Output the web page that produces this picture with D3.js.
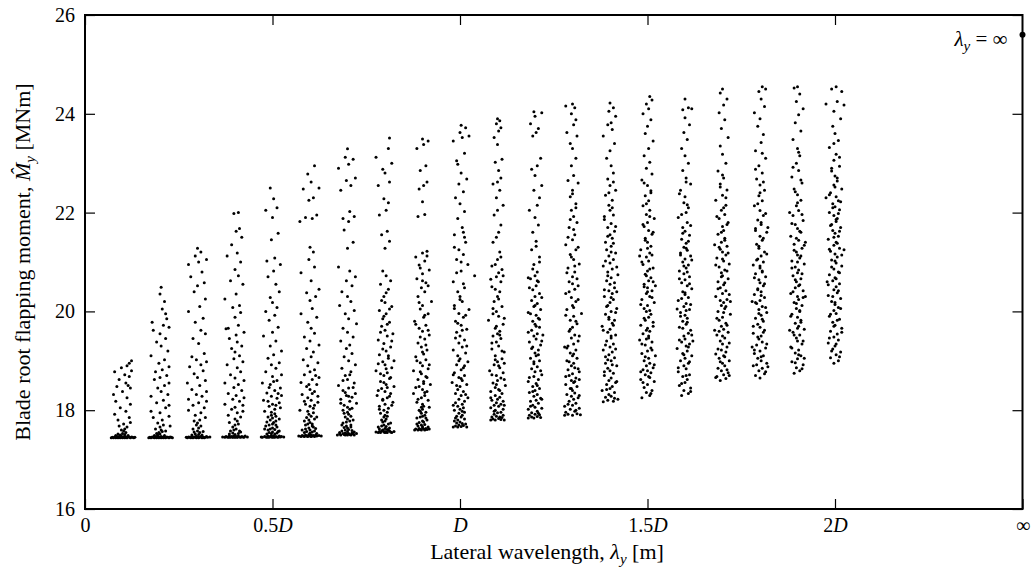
<!DOCTYPE html>
<html>
<head>
<meta charset="utf-8">
<script src="https://cdn.jsdelivr.net/npm/d3@7"></script>
<style>
  body { margin: 0; background: #fff; }
  svg { display: block; }
  text { font-family: "Liberation Serif", "DejaVu Serif", serif; fill: #000; }
</style>
</head>
<body>
<div id="chart"></div>
<script>
// nominal lateral wavelength of each sample column, in units of D
const wavelengths = [0.1, 0.2, 0.3, 0.4, 0.5, 0.6, 0.7, 0.8, 0.9, 1.0,
                     1.1, 1.2, 1.3, 1.4, 1.5, 1.6, 1.7, 1.8, 1.9, 2.0];

// flat pairs per column: (wavelength deviation in units of 0.003 D, peak flapping moment in MNm)
const col01 = [-10,17.44, -9,17.45, -8,17.44, -7,17.46, -6,17.44, -5,17.45, -4,17.47, -4,17.44, -3,17.45, -2,17.46, -2,17.44, -1,17.48, -1,17.45, 0,17.44, 1,17.46, 1,17.45, 2,17.47, 2,17.44, 3,17.46, 4,17.45, 4,17.44, 5,17.47, 6,17.45, 7,17.44, 8,17.46, 9,17.45, 10,17.44, 11,17.45, -6,17.49, -2,17.50, 2,17.51, 5,17.49, 0,17.53, 3,17.55, -4,17.52, 1,17.58, 2,17.62, -1,17.60, 4,17.66, -3,17.68,
  1,17.72, 7,17.75, -4,17.80, 6,17.85, -7,17.92, 3,17.98, -2,18.05, 7,18.12, -6,18.18, 4,18.25, -8,18.32, 0,18.38, 7,18.45, -5,18.48, 5,18.50, -3,18.62, 6,18.68, 2,18.72, -7,18.78, 8,18.80, 4,18.90, 6,18.95, 8,19.00, -1,18.86, 3,18.55];
const col02 = [-10,17.44, -9,17.45, -8,17.44, -7,17.46, -6,17.45, -5,17.44, -5,17.46, -4,17.45, -3,17.44, -3,17.47, -2,17.45, -1,17.44, -1,17.46, 0,17.45, 1,17.44, 1,17.47, 2,17.45, 3,17.44, 3,17.46, 4,17.45, 5,17.44, 6,17.46, 7,17.45, 8,17.44, 9,17.46, 10,17.45, 11,17.44, -5,17.49, -2,17.50, 0,17.52, 4,17.49, -1,17.55, 2,17.57, -3,17.53, 1,17.60, 5,17.58, -4,17.62, 0,17.66, 3,17.70, -2,17.74,
  9,17.68, 2,17.80, -6,17.85, 8,17.88, 0,17.95, -8,17.98, 5,18.05, 8,18.10, -3,18.15, 3,18.20, -8,18.28, 7,18.32, 1,18.38, -2,18.45, 4,18.50, 8,18.55, -5,18.62, 0,18.66, 6,18.70, -4,18.78, 2,18.82, 8,18.88, -1,18.95, 4,19.02, -8,19.10, 7,19.20, 1,19.30, -3,19.38, 5,19.45, 0,19.55, -6,19.62, 8,19.68, 3,19.72, -7,19.78, 5,19.95, 2,20.05, 4,20.20, 0,20.35, 1,20.49, 6,19.85];
const col03 = [-10,17.45, -9,17.44, -8,17.46, -7,17.45, -6,17.44, -5,17.47, -4,17.45, -4,17.44, -3,17.46, -2,17.45, -1,17.44, -1,17.48, 0,17.45, 1,17.44, 1,17.46, 2,17.45, 3,17.47, 4,17.44, 4,17.45, 5,17.46, 6,17.44, 7,17.45, 8,17.47, 9,17.45, 11,17.46, -5,17.50, -2,17.52, 1,17.51, 4,17.50, -3,17.56, 2,17.55, 0,17.58, 5,17.57, -4,17.62, 1,17.64, 3,17.68, -1,17.70, 0,17.74, -3,17.78, 2,17.80,
  7,17.85, -2,17.90, 3,17.95, -8,18.00, 6,18.05, -4,18.10, 1,18.15, 8,18.18, -8,18.22, 4,18.28, -1,18.32, 8,18.38, -5,18.42, 2,18.50, -9,18.55, 7,18.60, 0,18.66, -3,18.74, 5,18.80, -7,18.88, 3,18.92, 8,18.98, -1,19.02, -5,19.08, 6,19.15, 1,19.35, -4,19.45, 7,19.55, 3,19.62, -2,19.78, 5,19.86, -8,20.00, 2,20.10, 7,20.25, -3,20.40, 0,20.52, 6,20.58, -6,20.70, 4,20.80, -8,20.95, 1,21.00, 8,21.05, -2,21.12, 3,21.20, 0,21.28];
const col04 = [-11,17.46, -9,17.45, -8,17.47, -7,17.46, -6,17.45, -5,17.48, -5,17.46, -4,17.45, -3,17.47, -2,17.46, -2,17.45, -1,17.48, 0,17.46, 0,17.45, 1,17.47, 2,17.46, 2,17.45, 3,17.48, 4,17.46, 5,17.45, 6,17.47, 7,17.46, 8,17.45, 9,17.48, 11,17.46, -5,17.52, -2,17.54, 0,17.51, 3,17.53, 5,17.56, -4,17.58, -1,17.60, 1,17.62, 4,17.58, -2,17.66, 0,17.70, 3,17.72, -5,17.75, 2,17.78, 0,17.82,
  5,17.86, -6,17.90, 2,17.95, 7,17.98, -3,18.02, 0,18.06, 7,18.10, -9,18.12, 4,18.18, -2,18.22, 8,18.25, 1,18.30, -6,18.34, 6,18.40, -1,18.46, 3,18.52, -9,18.55, 8,18.60, 0,18.65, -4,18.72, 5,18.78, 2,18.86, -7,18.92, 7,18.98, -1,19.04, 4,19.10, 0,19.18, -3,19.25, 6,19.30, 2,19.38, -5,19.45, 1,19.52, 8,19.58, -8,19.65, -6,19.66, 3,19.72, 0,19.88, 5,19.98, -2,20.08, 4,20.12, -9,20.25, 1,20.35, 7,20.55, -4,20.62, 3,20.72, 0,20.85, 5,21.00, -7,21.12, 2,21.18, -3,21.35, 6,21.50, 1,21.62, 4,21.68, -1,21.98, 3,22.00];
const col05 = [-10,17.46, -9,17.45, -7,17.47, -6,17.46, -5,17.45, -4,17.48, -4,17.46, -3,17.45, -2,17.47, -1,17.49, -1,17.46, 0,17.45, 1,17.48, 1,17.46, 2,17.45, 3,17.47, 4,17.46, 5,17.45, 6,17.48, 7,17.46, 8,17.47, 10,17.46, -5,17.52, -3,17.55, -1,17.53, 0,17.56, 2,17.52, 4,17.54, 5,17.57, -4,17.60, -2,17.62, 0,17.64, 2,17.61, 4,17.66, -6,17.68, -3,17.70, 0,17.72, 1,17.75, 3,17.78, -2,17.80, 0,17.84, -4,17.86, 3,17.88, -1,17.90, 2,17.93,
  -7,17.98, 2,18.02, 7,18.05, -3,18.08, 0,18.12, 6,18.15, -8,18.20, 4,18.24, -1,18.28, 8,18.30, -5,18.35, 2,18.40, 7,18.45, -2,18.52, -9,18.55, 4,18.60, 0,18.68, 8,18.72, -6,18.78, 3,18.85, -1,18.92, 6,18.96, -4,19.05, 1,19.12, 8,19.20, -2,19.30, 3,19.40, -8,19.50, 0,19.58, 5,19.68, -3,19.82, 2,19.92, -6,20.00, 4,20.08, 0,20.18, -2,20.28, 6,20.40, 3,20.55, -4,20.70, 1,20.82, 7,20.95, -5,21.02, 2,21.08, -1,21.45, 5,21.58, 0,21.90, -6,22.05, 4,22.10, 1,22.28, -2,22.50,
  6,17.58, -7,17.62, 3,17.70, -5,17.76, 6,17.82, -1,17.96, 3,18.10, -4,18.18, 5,18.34, -3,18.46, 1,18.58];
const col06 = [-10,17.48, -8,17.47, -7,17.49, -6,17.48, -5,17.47, -4,17.50, -3,17.48, -2,17.47, -1,17.49, -1,17.51, 0,17.48, 1,17.47, 1,17.50, 2,17.48, 3,17.49, 4,17.47, 5,17.50, 6,17.48, 8,17.49, 10,17.48, -5,17.55, -3,17.57, 0,17.54, 2,17.56, 4,17.58, -4,17.62, -1,17.64, 0,17.60, 3,17.66, 5,17.63, -4,17.70, -2,17.72, 0,17.75, 2,17.72, -1,17.80, 4,17.82, -3,17.85, 1,17.88, -1,17.92, 3,17.95,
  -9,18.00, 3,18.04, 0,18.08, -4,18.12, 7,18.16, 1,18.20, -2,18.25, 7,18.28, -7,18.32, 4,18.38, 0,18.42, -3,18.48, 6,18.52, -8,18.56, 2,18.62, 8,18.66, -5,18.72, 0,18.78, 4,18.82, -2,18.90, 7,18.96, -6,19.02, 1,19.08, 3,19.18, -3,19.25, 8,19.32, 0,19.40, -5,19.48, 4,19.56, 1,19.66, -2,19.78, 6,19.88, -8,19.95, 2,20.06, 0,20.22, 5,20.30, -3,20.38, 8,20.45, 1,20.62, -8,20.78, 4,20.90, -1,21.05, 3,21.20, 0,21.30, -9,21.82, 2,21.88, -4,21.90, 6,21.95, -1,22.25, 3,22.30, -6,22.48, 8,22.50, 1,22.62, -2,22.78, 4,22.95,
  6,17.53, -7,17.60, 2,17.68, -5,17.78, 6,17.86, -2,17.98, 4,18.10, -5,18.18, 2,18.34, -1,18.52, 5,18.70];
const col07 = [-9,17.50, -7,17.52, -6,17.50, -4,17.53, -3,17.51, -2,17.50, -2,17.54, -1,17.52, 0,17.50, 1,17.53, 2,17.51, 3,17.50, 4,17.54, 5,17.52, 6,17.50, 8,17.53, -5,17.58, -2,17.60, 0,17.57, 1,17.61, 4,17.59, -3,17.65, -1,17.68, 0,17.64, 3,17.70, -4,17.74, -1,17.76, 2,17.78, 0,17.82, -2,17.86, 3,17.88, 1,17.92, 0,17.96, -4,18.00, 2,18.02,
  0,18.06, -3,18.10, 8,18.14, 2,18.18, -6,18.22, 4,18.26, -1,18.30, 7,18.34, -4,18.40, 1,18.45, -8,18.50, 6,18.55, 0,18.62, -2,18.70, 3,18.78, -5,18.85, 7,18.92, 1,19.00, -3,19.08, 4,19.15, -1,19.25, 2,19.32, -6,19.40, 5,19.48, 0,19.58, -4,19.66, 8,19.75, 1,19.85, -2,19.95, 6,20.02, -7,20.12, 3,20.20, 0,20.30, -5,20.40, 4,20.52, -1,20.62, 7,20.70, 2,20.82, -8,20.90, 0,21.28, 5,21.40, -3,21.65, 1,21.82, -4,21.88, 6,21.92, 2,22.02, -6,22.45, 3,22.55, -1,22.65, 7,22.70, -8,22.90, 1,22.98, 5,23.08, -2,23.12, 0,23.29,
  6,17.56, -7,17.55, 3,17.66, -5,17.70, 5,17.80, -3,17.94, 4,18.04, -6,18.14, 1,18.28, -2,18.36, 5,18.46, -4,18.60, 2,18.72];
const col08 = [-8,17.56, -6,17.55, -5,17.57, -4,17.55, -3,17.58, -1,17.56, 0,17.55, 0,17.57, 1,17.56, 2,17.55, 4,17.58, 5,17.56, 6,17.55, 8,17.57, -5,17.62, -2,17.60, 0,17.63, 2,17.61, 4,17.64, -3,17.68, -1,17.70, 1,17.67, 3,17.72, -2,17.76, 0,17.78, 1,17.82, -1,17.86, 0,17.90, -4,17.94, 2,17.96,
  -1,18.00, 3,18.04, -5,18.08, 0,18.12, 7,18.16, -2,18.20, 2,18.25, -7,18.30, 5,18.34, 0,18.38, -3,18.44, 8,18.48, 1,18.52, -4,18.58, 4,18.64, -1,18.70, 2,18.76, -8,18.80, 6,18.86, 0,18.92, -2,18.98, 8,19.00, 3,19.05, -5,19.12, 1,19.20, 5,19.28, -1,19.35, -6,19.42, 2,19.50, 7,19.55, 0,19.62, -3,19.70, 4,19.78, -2,19.85, 1,19.95, -5,20.02, 6,20.10, 0,20.18, -1,20.30, 3,20.45, -4,20.55, 5,20.62, 1,20.72, -2,20.82, 0,21.28, 4,21.42, -3,21.55, 2,21.62, -5,21.95, 1,22.05, 3,22.20, -1,22.28, -6,22.55, 4,22.62, 0,22.80, -2,22.88, 6,23.00, -8,23.12, 3,23.30, 4,23.51,
  3,17.60, -6,17.66, 5,17.74, -3,17.80, 2,17.88, -5,18.02, 6,18.10, -2,18.22, 4,18.28, -6,18.40, 2,18.46, -1,18.56, 5,18.66, -4,18.74, 1,18.84, -6,18.94, 3,19.10, -2,19.24, 6,19.40, -4,19.58, 2,19.74, -1,19.90, 4,20.05, -3,20.22, 1,20.38];
const col09 = [-7,17.60, -6,17.62, -4,17.60, -3,17.63, -2,17.61, -1,17.60, 0,17.64, 1,17.62, 2,17.60, 3,17.63, 4,17.61, 6,17.62, -4,17.68, -1,17.70, 0,17.67, 2,17.71, -3,17.75, 0,17.78, 1,17.76, 4,17.80, -5,17.84, -2,17.86, 0,17.88, 2,17.90, -1,17.94, 3,17.96, -3,18.00, 0,18.02, -1,18.06, 1,18.08,
  0,18.12, -5,18.16, 5,18.20, -1,18.25, 2,18.30, -8,18.34, 4,18.38, 0,18.42, -3,18.48, 7,18.52, 1,18.58, -4,18.62, 3,18.68, -1,18.74, -8,18.80, 5,18.84, 0,18.90, -2,18.96, 3,19.02, -6,19.08, 1,19.14, 4,19.22, -1,19.28, -4,19.36, 2,19.44, 6,19.52, 0,19.60, -3,19.66, 3,19.72, -7,19.80, 1,19.88, 5,19.95, -2,20.05, 0,20.12, 8,20.20, -4,20.30, 2,20.40, -1,20.48, 3,20.58, -5,20.66, 0,20.76, 6,20.84, -3,20.94, 2,21.02, -6,21.10, 0,21.18, 4,21.22, -4,21.92, 2,21.96, 0,22.22, -3,22.48, 1,22.55, 4,22.62, -2,22.85, 3,22.95, -5,23.30, 1,23.38, 5,23.45, 0,23.49,
  5,17.66, -5,17.72, 3,17.84, -2,17.98, 6,18.06, -4,18.22, 2,18.36, -6,18.46, 1,18.54, 4,18.66, -2,18.78, 6,18.92, -5,19.00, 0,19.18, 3,19.32, -2,19.48, 5,19.62, -6,19.74, 2,19.92, -3,20.18, 5,20.52, 0,20.62, -2,20.88, 4,21.12];
const col10 = [-6,17.66, -4,17.68, -2,17.66, -1,17.70, 1,17.67, 3,17.69, 6,17.66, -3,17.74, 0,17.76, 2,17.73, -5,17.78, -2,17.80, 4,17.82, 1,17.86, -3,17.88, 2,17.90, -1,17.94, 4,17.96, -5,18.00, 0,18.02, 3,18.05, -2,18.08, 2,18.12, -4,18.15, 4,18.18,
  -1,18.22, 7,18.25, 1,18.30, -4,18.34, 3,18.38, -2,18.42, 0,18.48, 6,18.52, -7,18.56, 2,18.60, -1,18.66, 4,18.70, -5,18.76, 1,18.82, 3,18.86, -3,18.92, 7,18.98, 0,19.04, -2,19.10, 5,19.16, -6,19.22, 2,19.28, -1,19.36, 4,19.42, 0,19.50, -3,19.58, 6,19.64, 1,19.72, -4,19.80, 3,19.88, -1,19.96, 8,20.04, -5,20.12, 2,20.20, 0,20.30, -2,20.40, 4,20.48, 13,20.72, -6,20.60, 1,20.82, 7,20.95, -3,21.05, 3,21.15, -1,21.25, 5,21.40, -5,21.55, 2,21.70, -2,21.88, 4,22.02, 0,22.18, -4,22.30, 3,22.42, -1,22.58, 6,22.68, 1,22.80, -3,23.05, 4,23.20, -6,23.45, 2,23.52, 8,23.55, 0,23.62, 5,23.72, 1,23.77, -2,22.98, 3,21.60,
  5,17.72, -4,17.84, 2,17.98, -6,18.10, 5,18.32, -3,18.50, 1,18.64, -6,18.72, 4,18.90, -1,19.00, 6,19.30, -4,19.46, 2,19.62, -2,19.76, 5,19.92, -5,20.06, 0,20.24, 3,20.56, -3,20.78, 1,21.00, -5,21.30, 4,21.50];
const col11 = [-6,17.80, -4,17.82, -2,17.80, 1,17.83, 3,17.81, 6,17.80, -5,17.86, -1,17.88, 2,17.86, 5,17.90, -3,17.92, 0,17.95, 3,17.96, -2,18.00, 5,18.02, -6,18.05, 1,18.08, -3,18.10, 3,18.12, -1,18.15, 5,18.18, -5,18.20, 0,18.22, 2,18.26, -2,18.30,
  4,18.34, -6,18.38, 1,18.42, -2,18.46, 7,18.50, -4,18.55, 0,18.60, 3,18.65, -1,18.70, 5,18.76, -7,18.80, 2,18.86, -3,18.92, 0,18.98, 4,19.04, -2,19.10, 6,19.18, -5,19.24, 1,19.30, -1,19.38, 3,19.45, -4,19.50, 0,19.55, 2,19.60, -2,19.66, 5,19.74, -8,19.82, 1,19.90, -1,20.00, 4,20.10, -3,20.20, 0,20.30, 2,20.40, -5,20.50, 3,20.60, -1,20.70, 1,20.78, 4,20.85, -2,20.95, 0,21.05, 2,21.20, -4,21.40, 1,21.60, 3,21.75, -3,21.95, 0,22.05, 5,22.15, -1,22.30, 2,22.45, -4,22.58, 0,22.62, 3,22.70, 1,22.85, -2,23.02, 4,23.08, 0,23.38, -3,23.52, 1,23.65, 3,23.72, -1,23.80, 2,23.86, 0,23.90, -4,19.95, 6,18.95, -6,20.65,
  4,17.85, -3,17.98, 6,18.10, -6,18.25, 2,18.40, -1,18.52, 6,18.62, -5,18.72, 1,18.90, -2,19.02, 4,19.20, -5,19.36, 2,19.52, -1,19.70, 6,19.86, -4,20.06, 1,20.25, -2,20.45, 5,20.72, -5,20.92, 3,21.10, -1,21.50];
const col12 = [-6,17.84, -3,17.86, -1,17.84, 2,17.87, 5,17.85, -5,17.90, 0,17.92, 4,17.91, -3,17.95, 2,17.98, -6,18.02, 6,18.04, 0,18.06, -2,18.10, 3,18.14, -4,18.18, 1,18.20, 5,18.24, -1,18.28, 2,18.32,
  -5,18.36, 0,18.40, 4,18.44, -2,18.48, 1,18.54, -6,18.58, 3,18.62, -1,18.68, 6,18.72, 0,18.78, -3,18.84, 2,18.88, -1,18.94, 4,19.00, -4,19.05, 1,19.10, 0,19.16, 3,19.22, -2,19.28, 5,19.32, -5,19.38, 1,19.44, -1,19.50, 2,19.55, -3,19.62, 4,19.68, 0,19.74, -2,19.80, 3,19.86, 1,19.92, -6,19.98, 5,20.04, -1,20.10, 2,20.16, -3,20.22, 0,20.30, 4,20.36, -2,20.44, 1,20.52, 3,20.60, -4,20.66, 0,20.72, 2,20.80, -1,20.95, 4,21.10, -3,21.25, 1,21.42, -2,21.60, 3,21.75, 0,21.90, -5,22.05, 2,22.15, 4,22.30, -1,22.45, 6,22.55, 0,22.75, -3,22.88, 2,22.95, 5,23.10, -2,23.55, 1,23.62, 3,23.70, -4,23.80, 0,23.95, 6,24.02, -1,24.04, -6,20.68, 7,19.52,
  3,17.94, -4,18.08, 6,18.22, -2,18.38, 2,18.50, -5,18.66, 5,18.80, -1,18.98, 3,19.12, -3,19.25, 6,19.40, -6,19.58, 1,19.70, 4,19.84, -4,19.95, 0,20.12, 6,20.28, -5,20.48, 2,20.62, -2,20.86, 4,21.00, 1,21.32];
const col13 = [-7,17.90, -4,17.92, 0,17.90, 4,17.93, 7,17.91, -6,17.96, 2,17.98, -2,18.02, 6,18.04, -7,18.08, 0,18.10, 3,18.14, -3,18.18, 1,18.22, 5,18.25, -1,18.28, -5,18.32, 2,18.35, 0,18.40, -2,18.44,
  4,18.48, -6,18.52, 1,18.56, -1,18.60, 3,18.65, -3,18.70, 0,18.74, 6,18.78, -4,18.82, 2,18.86, -1,18.90, 1,18.95, -5,19.00, 4,19.05, 0,19.10, -2,19.16, 3,19.22, -7,19.28, 1,19.34, 5,19.40, -1,19.46, 2,19.52, -3,19.60, 0,19.68, 4,19.75, -2,19.82, 1,19.90, 8,19.96, -5,20.04, 0,20.12, 3,20.20, -1,20.28, -6,20.36, 2,20.45, 5,20.52, -3,20.60, 0,20.70, 2,20.80, -4,20.88, 6,20.96, 1,21.05, -2,21.15, 3,21.25, -6,21.35, 0,21.45, 2,21.55, -3,21.70, 4,21.80, 1,21.92, -1,22.05, 3,22.18, -2,22.32, 0,22.45, 5,22.60, -4,22.65, 1,22.75, -1,22.95, 3,23.10, 0,23.30, -2,23.40, 4,23.55, -5,23.62, 1,23.78, 3,23.88, -1,24.00, 2,24.12, -6,24.16, 0,24.20, -4,19.30, 6,18.62,
  3,18.00, -4,18.12, 6,18.30, -1,18.44, 2,18.58, -6,18.68, 5,18.84, -3,18.98, 1,19.14, -5,19.26, 6,19.50, -2,19.64, 3,19.80, -6,19.92, 1,20.08, 5,20.24, -3,20.40, 0,20.56, 4,20.66, -5,20.78, 2,20.92, -1,21.10, 5,21.30, -4,21.50, 1,21.66, -2,21.86, 3,22.10, 0,22.38];
const col14 = [-6,18.17, -2,18.20, 3,18.18, 7,18.22, -4,18.26, 1,18.28, -1,18.32, 4,18.36, -7,18.40, 0,18.44, 2,18.48, -3,18.52, 5,18.56, -1,18.60, 1,18.65,
  -5,18.70, 3,18.75, 0,18.80, -2,18.85, 6,18.90, -4,18.95, 1,19.00, 4,19.06, -1,19.12, 2,19.18, -6,19.22, 0,19.28, 3,19.34, -3,19.40, 1,19.46, 5,19.52, -2,19.58, 0,19.64, -7,19.70, 2,19.76, 4,19.82, -1,19.88, -4,19.94, 1,20.00, 6,20.06, -2,20.12, 0,20.18, 3,20.24, -5,20.30, 2,20.36, -1,20.42, 4,20.48, 0,20.55, -3,20.62, 1,20.68, 7,20.74, -2,20.80, 2,20.86, -6,20.92, 0,20.98, 3,21.05, -1,21.12, 5,21.18, -3,21.25, 1,21.32, -4,21.40, 2,21.48, 0,21.55, 4,21.62, -2,21.70, 1,21.78, -5,21.86, 3,21.95, 0,22.05, -1,22.15, 2,22.25, -4,22.35, 5,22.45, 0,22.55, -2,22.68, 3,22.80, 1,22.95, -3,23.10, 0,23.25, 4,23.40, -6,23.55, 2,23.68, -2,23.78, 1,23.82, 5,23.95, -1,24.05, 3,24.12, 0,24.22, -4,19.08, 6,20.40,
  4,18.24, -3,18.42, 6,18.58, -5,18.78, 2,18.92, -2,19.02, 5,19.24, -4,19.32, 1,19.50, -6,19.62, 3,19.72, -1,19.84, 5,19.98, -3,20.10, 1,20.28, -5,20.44, 4,20.58, -2,20.72, 6,20.90, -4,21.02, 1,21.20, 3,21.38, -2,21.52, 5,21.72, -5,21.92, 2,22.10, -1,22.40, 3,22.62];
const col15 = [-5,18.25, 2,18.30, -1,18.36, 4,18.40, -3,18.46, 0,18.52, 6,18.58, -6,18.62, 1,18.68, -2,18.72, 3,18.76, 0,18.80, -4,18.82, 5,18.86, -1,18.90, 2,18.95, -3,19.00, 1,19.05, 7,19.10, -5,19.15, 0,19.20, 3,19.26, -2,19.32, 4,19.38, -1,19.44, 1,19.50, -4,19.55, 2,19.60, 0,19.66, -6,19.72, 5,19.78, -2,19.82, 1,19.88, 3,19.94, -1,20.00, -3,20.06, 0,20.12, 6,20.18, -5,20.24, 2,20.30, -1,20.36, 4,20.42, 0,20.48, -3,20.55, 1,20.62, 3,20.68, -2,20.75, 0,20.82, 5,20.88, -4,20.95, 1,21.02, -1,21.10, 2,21.18, -6,21.25, 3,21.32, 0,21.40, -2,21.48, 4,21.56, 1,21.64, -3,21.72, 0,21.80, 6,21.88, -1,21.96, 2,22.05, -4,22.14, 1,22.24, -2,22.34, 3,22.44, 0,22.55, -5,22.66, 4,22.78, -1,22.90, 2,23.02, -3,23.15, 1,23.30, 5,23.45, -2,23.60, 0,23.75, 3,23.88, -4,24.00, 1,24.10, -1,24.20, 4,24.28, 2,24.35, -7,19.42, 7,20.52, -7,21.12,
  3,18.34, -4,18.56, 2,18.66, -6,18.78, 6,18.92, -2,19.08, 4,19.22, -5,19.34, 1,19.46, -1,19.62, 5,19.70, -3,19.86, 2,20.02, -6,20.14, 4,20.28, 0,20.40, -3,20.50, 5,20.60, -1,20.72, 2,20.86, -5,21.00, 4,21.14, 0,21.28, -2,21.44, 5,21.60, -4,21.76, 2,21.92, -1,22.18, 3,22.40, -3,22.60];
const col16 = [-3,18.30, 3,18.34, -1,18.40, 5,18.45, -5,18.50, 0,18.56, 2,18.62, -2,18.68, 4,18.72, -6,18.78, 1,18.84, -1,18.90, 3,18.95, -4,19.00, 0,19.05, 6,19.10, -2,19.15, 2,19.20, -7,19.25, 1,19.30, 4,19.34, -3,19.38, 0,19.44, -1,19.50, 3,19.56, 5,19.62, -5,19.68, 1,19.74, -2,19.80, 2,19.86, 0,19.92, -4,19.98, 4,20.04, -1,20.10, 1,20.16, -6,20.22, 3,20.28, 0,20.34, -2,20.40, 6,20.46, 2,20.52, -3,20.58, 0,20.64, 4,20.70, -1,20.76, -5,20.82, 1,20.88, 3,20.94, -2,21.00, 0,21.06, 5,21.12, -4,21.18, 2,21.24, -1,21.30, 1,21.38, -3,21.46, 4,21.54, 0,21.62, -2,21.70, 2,21.80, -6,21.90, 1,22.00, 3,22.10, -1,22.20, 0,22.32, -4,22.45, 5,22.58, 1,22.70, -2,22.85, 3,23.00, 0,23.15, -3,23.30, 2,23.48, -1,23.62, 4,23.78, 0,23.92, -2,24.08, 3,24.12, 6,24.10, 0,24.30, -7,20.05, 7,19.40,
  5,18.38, -3,18.54, 1,18.70, -6,18.86, 4,18.98, -1,19.12, 3,19.28, -5,19.42, 6,19.52, -2,19.66, 2,19.78, -4,19.90, 1,20.02, 5,20.14, -3,20.26, 0,20.38, 4,20.56, -5,20.66, 2,20.80, -1,20.92, 6,21.04, -4,21.14, 1,21.28, 3,21.42, -2,21.58, 5,21.74, -3,21.96, 2,22.16, -5,22.38, 1,22.62];
const col17 = [-2,18.60, 3,18.64, -5,18.68, 1,18.72, 5,18.76, -1,18.80, -4,18.85, 2,18.90, 0,18.95, 6,19.00, -3,19.05, 1,19.10, -6,19.14, 3,19.18, -1,19.22, 4,19.28, 0,19.34, -2,19.40, 2,19.46, -5,19.52, 5,19.58, 1,19.64, -1,19.70, 3,19.76, -3,19.82, 0,19.88, 7,19.94, -4,20.00, 2,20.06, -1,20.12, 1,20.18, 4,20.24, -6,20.30, 0,20.36, 3,20.42, -2,20.48, 1,20.54, -4,20.60, 5,20.66, 0,20.72, -1,20.78, 2,20.84, -3,20.90, 6,20.96, 1,21.02, -5,21.08, 3,21.14, 0,21.20, -2,21.26, 4,21.32, -1,21.40, 2,21.48, -4,21.56, 1,21.64, 0,21.72, 5,21.80, -3,21.88, 2,21.96, -1,22.05, 3,22.15, -6,22.25, 0,22.35, 4,22.46, -2,22.58, 1,22.70, -4,22.84, 3,23.00, 0,23.18, -2,23.35, 5,23.52, -1,23.70, 2,23.88, -3,24.02, 1,24.18, 4,24.30, -2,24.42, 0,24.50, -7,19.62, 7,20.20, -7,21.35, 6,18.70,
  -6,18.66, 4,18.82, -2,18.98, 2,19.08, -4,19.24, 6,19.36, 0,19.50, -3,19.60, 4,19.72, -5,19.86, 1,19.98, 3,20.10, -2,20.22, 6,20.34, -4,20.46, 2,20.58, -1,20.70, 4,20.82, -6,20.94, 0,21.06, 5,21.18, -3,21.30, 2,21.44, -1,21.60, 4,21.76, -5,21.92, 1,22.10, 3,22.30, -2,22.52, 0,22.76];
const col18 = [0,18.65, -4,18.70, 4,18.74, -1,18.80, 2,18.85, -6,18.90, 6,18.95, 1,19.00, -2,19.05, 3,19.10, -5,19.15, 0,19.20, 5,19.26, -3,19.32, 2,19.38, -1,19.44, 1,19.50, -6,19.56, 4,19.62, 0,19.68, -2,19.74, 3,19.80, -4,19.86, 1,19.92, 6,19.98, -1,20.04, 2,20.10, -3,20.16, 0,20.22, 4,20.28, -5,20.34, 1,20.40, -2,20.46, 3,20.52, 0,20.58, -1,20.64, 5,20.70, -4,20.76, 2,20.82, 0,20.88, -6,20.94, 3,21.00, -2,21.06, 1,21.12, 4,21.20, -1,21.28, -3,21.36, 2,21.44, 0,21.52, 6,21.60, -4,21.68, 1,21.76, -2,21.85, 3,21.94, 0,22.04, -5,22.14, 2,22.24, -1,22.34, 4,22.45, 0,22.56, -3,22.68, 2,22.80, -1,22.95, 5,23.10, -4,23.25, 1,23.42, 3,23.58, -2,23.75, 0,23.90, -5,24.02, 4,24.15, 1,24.30, -1,24.45, 5,24.50, 2,24.55, -7,20.20, 7,21.70, -7,19.28, 7,18.88,
  5,18.78, -3,18.92, 1,19.08, -5,19.22, 6,19.34, -2,19.48, 3,19.58, -6,19.70, 2,19.84, -1,19.96, 5,20.08, -4,20.18, 1,20.32, -2,20.44, 4,20.56, -5,20.68, 2,20.80, 0,20.92, -3,21.04, 6,21.16, -1,21.32, 3,21.48, -4,21.64, 1,21.80, 5,21.98, -2,22.18, 0,22.40, 3,22.62, -4,22.88, 2,23.20];
const col19 = [-3,18.75, 2,18.80, -1,18.86, 5,18.92, -5,18.98, 0,19.04, 3,19.10, -2,19.16, 1,19.22, -6,19.28, 4,19.34, 0,19.40, -1,19.46, 2,19.52, -4,19.58, 6,19.64, 1,19.70, -2,19.76, 3,19.82, 0,19.88, -5,19.94, 2,20.00, -1,20.06, 4,20.12, -3,20.18, 1,20.24, 0,20.30, -6,20.36, 5,20.42, -2,20.48, 2,20.54, -1,20.60, 3,20.66, -4,20.72, 0,20.78, 1,20.84, -2,20.90, 6,20.96, -5,21.02, 2,21.08, 0,21.14, -1,21.20, 4,21.28, -3,21.36, 1,21.44, -6,21.52, 3,21.60, 0,21.68, -2,21.76, 5,21.84, -4,21.94, 1,22.04, -1,22.14, 3,22.25, 0,22.36, -3,22.48, 4,22.60, -5,22.72, 1,22.85, -1,23.00, 2,23.15, 0,23.30, -4,23.48, 3,23.65, -2,23.82, 1,23.98, 5,24.10, -1,24.25, 2,24.40, -3,24.52, 0,24.55, -7,19.62, 7,20.30, 7,21.40, -7,22.00, 6,19.05,
  4,18.84, -2,18.96, 1,19.12, -5,19.26, 5,19.40, -3,19.52, 0,19.66, 3,19.78, -6,19.90, 2,20.02, -1,20.16, 5,20.28, -4,20.40, 1,20.52, -2,20.64, 4,20.76, -5,20.88, 0,21.00, 3,21.12, -3,21.24, 6,21.34, -1,21.48, 2,21.62, -5,21.78, 4,21.96, 0,22.20, -2,22.42, 3,22.66, -4,22.92, 1,23.22];
const col20 = [-1,18.95, 3,19.00, -4,19.06, 1,19.12, 5,19.18, -2,19.24, 0,19.30, -6,19.36, 3,19.42, -1,19.48, 2,19.54, -4,19.60, 6,19.66, 0,19.72, -2,19.78, 4,19.84, -5,19.90, 1,19.96, -1,20.02, 3,20.08, 0,20.14, -3,20.20, 5,20.26, -6,20.32, 2,20.38, -1,20.44, 1,20.50, 4,20.56, -2,20.62, 0,20.68, -5,20.74, 3,20.80, -1,20.86, 6,20.92, 1,20.98, -3,21.04, 2,21.10, 0,21.16, -4,21.22, 4,21.28, -1,21.34, 1,21.40, -6,21.46, 3,21.52, 0,21.58, -2,21.64, 5,21.70, -3,21.76, 1,21.82, 2,21.88, -1,21.94, -5,22.00, 4,22.06, 0,22.12, -2,22.18, 3,22.24, 1,22.32, -4,22.40, 6,22.48, -1,22.56, 2,22.64, 0,22.74, -3,22.84, 4,22.94, -1,23.06, 1,23.18, -5,23.32, 3,23.46, 0,23.60, -2,23.75, 5,23.90, -1,24.05, -8,24.20, 8,24.18, 2,24.25, 6,24.45, -3,24.50, 1,24.55, -7,20.60, 8,21.25, -8,22.30,
  4,19.08, -3,19.20, 1,19.34, -5,19.46, 6,19.58, -1,19.70, 2,19.82, -4,19.94, 5,20.06, 0,20.18, -2,20.30, 3,20.42, -6,20.54, 1,20.66, 4,20.78, -3,20.90, 0,21.02, 6,21.14, -5,21.26, 2,21.38, -1,21.50, 4,21.62, -4,21.74, 1,21.86, 3,21.98, -2,22.10, 5,22.22, -5,22.36, 0,22.52, 2,22.70, -3,22.90, 4,23.12, -1,23.40];

const columns = [col01, col02, col03, col04, col05, col06, col07, col08, col09, col10,
                 col11, col12, col13, col14, col15, col16, col17, col18, col19, col20];

// the single uniform-inflow case, plotted at the infinite-wavelength end
const infMoment = 25.6;

const xTicks = [0, 0.5, 1, 1.5, 2];
const xTickLabels = ["0", "0.5D", "D", "1.5D", "2D"];
const yTicks = [16, 18, 20, 22, 24, 26];

const W = 1031, H = 567;
const margin = {top: 15, right: 8.5, bottom: 58, left: 85};
const w = W - margin.left - margin.right;
const h = H - margin.top - margin.bottom;
const xInf = 2.5; // axis end, labelled infinity, in D
const devUnit = 0.003; // D per deviation unit

const svg = d3.select("#chart").append("svg")
	.attr("width", W)
	.attr("height", H);

svg.append("rect").attr("width", W).attr("height", H).attr("fill", "#fff");

const g = svg.append("g").attr("transform", `translate(${margin.left},${margin.top})`);

const x = d3.scaleLinear().domain([0, xInf]).range([0, w]);
const y = d3.scaleLinear().domain([16, 26]).range([h, 0]);

// flatten columns into points
let points = [];
columns.forEach((col, i) => {
	for (let j = 0; j < col.length; j += 2) {
		points.push({lam: wavelengths[i] + col[j] * devUnit, m: col[j + 1]});
	}
});

g.selectAll("circle.pt")
	.data(points)
	.enter().append("circle")
	.attr("class", "pt")
	.attr("cx", (d) => x(d.lam))
	.attr("cy", (d) => y(d.m))
	.attr("r", 1.5)
	.attr("fill", "#000");

// axes, ticks pointing inwards
const xAxis = d3.axisBottom(x)
	.tickValues(xTicks.concat([xInf]))
	.tickSize(-10)
	.tickPadding(9)
	.tickFormat((d, i) => i < xTickLabels.length ? xTickLabels[i] : "\u221E");

const gx = g.append("g")
	.attr("transform", `translate(0,${h})`)
	.call(xAxis);

g.append("g").call(d3.axisTop(x).tickValues(xTicks).tickSize(-10).tickFormat(""));

g.append("g").call(d3.axisLeft(y).tickValues(yTicks).tickSize(-10).tickPadding(10));

g.append("g")
	.attr("transform", `translate(${w},0)`)
	.call(d3.axisRight(y).tickValues(yTicks).tickSize(-10).tickFormat(""));

g.selectAll(".domain").remove();
g.selectAll(".tick line").attr("stroke", "#000").attr("stroke-width", 1.2);
g.selectAll(".tick text")
	.attr("fill", "#000")
	.style("font-family", '"Liberation Serif", serif')
	.style("font-size", "20px");

// italic D in the wavelength tick labels
gx.selectAll("text").each(function() {
	let t = d3.select(this);
	let s = t.text();
	if (s.endsWith("D")) {
		t.text(null);
		if (s.length > 1) t.append("tspan").text(s.slice(0, -1));
		t.append("tspan").attr("font-style", "italic").text("D");
	}
});

g.append("rect")
	.attr("width", w)
	.attr("height", h)
	.attr("fill", "none")
	.attr("stroke", "#000")
	.attr("stroke-width", 2);

// infinite wavelength point and its label
g.append("circle")
	.attr("cx", x(xInf))
	.attr("cy", y(infMoment))
	.attr("r", 3)
	.attr("fill", "#000");

let infLabel = g.append("text")
	.attr("x", x(xInf) - 15)
	.attr("y", y(infMoment) + 11)
	.attr("text-anchor", "end")
	.style("font-size", "21px");
infLabel.append("tspan").attr("font-style", "italic").text("\u03BB");
infLabel.append("tspan").attr("font-style", "italic").attr("font-size", "15px").attr("dy", 5).text("y");
infLabel.append("tspan").attr("dy", -5).text(" = \u221E");

// axis titles
let xl = svg.append("text")
	.attr("x", 547)
	.attr("y", 559)
	.attr("text-anchor", "middle")
	.style("font-size", "22px");
xl.append("tspan").text("Lateral wavelength, ");
xl.append("tspan").attr("font-style", "italic").text("\u03BB");
xl.append("tspan").attr("font-style", "italic").attr("font-size", "15px").attr("dy", 5).text("y");
xl.append("tspan").attr("dy", -5).text(" [m]");

let yl = svg.append("text")
	.attr("transform", `translate(30,${margin.top + h / 2}) rotate(-90)`)
	.attr("text-anchor", "middle")
	.style("font-size", "22px");
yl.append("tspan").text("Blade root flapping moment, ");
yl.append("tspan").attr("font-style", "italic").text("M\u0302");
yl.append("tspan").attr("font-style", "italic").attr("font-size", "15px").attr("dy", 5).text("y");
yl.append("tspan").attr("dy", -5).text(" [MNm]");
</script>
</body>
</html>
